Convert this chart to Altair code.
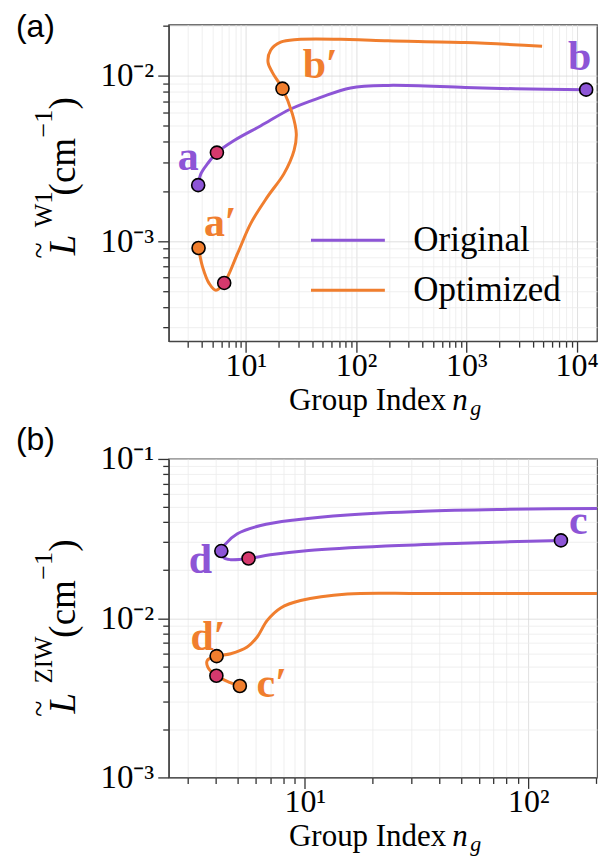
import altair as alt
import pandas as pd

PURPLE = "#8d55d6"
ORANGE = "#f07e2e"
PINK = "#d5396d"
SERIF = "Liberation Serif"
SANS = "Liberation Sans"

# ---------------- panel (a) data ----------------
a_orig_x = [3.70, 3.92, 4.50, 5.47, 7.83, 13.7, 25.5, 47.7, 89, 195, 980, 2800, 12200]
a_orig_y = [2.18e-3, 2.56e-3, 2.94e-3, 3.43e-3, 4.06e-3, 4.99e-3, 6.30e-3, 7.40e-3,
            8.45e-3, 8.75e-3, 8.50e-3, 8.35e-3, 8.25e-3]
a_opt_x = [3.73, 4.06, 4.66, 5.36, 6.37, 8.41, 11.1, 15.7, 22.2, 27.4, 28.7, 26.4, 21.5,
           17.4, 15.9, 16.8, 20.7, 29.4, 87, 195, 977, 4860]
a_opt_y = [9.08e-4, 6.96e-4, 5.53e-4, 5.04e-4, 5.58e-4, 8.40e-4, 1.28e-3, 1.85e-3, 2.56e-3,
           3.54e-3, 4.46e-3, 5.90e-3, 8.37e-3, 1.05e-2, 1.21e-2, 1.43e-2, 1.60e-2, 1.66e-2,
           1.66e-2, 1.63e-2, 1.59e-2, 1.51e-2]
a_pts_x = [3.70, 5.47, 12200, 3.73, 6.37, 21.5]
a_pts_y = [2.18e-3, 3.43e-3, 8.25e-3, 9.08e-4, 5.58e-4, 8.37e-3]
a_pts_kind = ["orig", "mid", "orig", "opt", "mid", "opt"]
a_lab_text = ["a", "b", "a′", "b′"]
a_lab_x = [2.41, 8370, 4.17, 32.8]
a_lab_y = [2.68e-3, 1.08e-2, 1.08e-3, 9.66e-3]
a_lab_kind = ["orig", "orig", "opt", "opt"]
a_xticks = [3, 4, 5, 6, 7, 8, 9, 10, 20, 30, 40, 50, 60, 70, 80, 90, 100, 200, 300, 400, 500,
            600, 700, 800, 900, 1000, 2000, 3000, 4000, 5000, 6000, 7000, 8000, 9000, 10000]
a_yticks = [3e-4, 4e-4, 5e-4, 6e-4, 7e-4, 8e-4, 9e-4, 1e-3, 2e-3, 3e-3, 4e-3, 5e-3, 6e-3,
            7e-3, 8e-3, 9e-3, 1e-2, 2e-2]

# ---------------- panel (b) data ----------------
b_orig_x = [140, 50.9, 23.0, 10.4, 7.0, 5.6, 4.66, 4.35, 4.23, 4.42, 4.99, 6.34, 9.2, 15.5,
            34, 76, 250]
b_orig_y = [3.08e-2, 2.96e-2, 2.84e-2, 2.66e-2, 2.50e-2, 2.37e-2, 2.33e-2, 2.39e-2, 2.64e-2,
            2.93e-2, 3.39e-2, 3.82e-2, 4.15e-2, 4.45e-2, 4.70e-2, 4.82e-2, 4.90e-2]
b_opt_x = [5.12, 4.57, 4.02, 3.68, 3.66, 4.03, 4.66, 5.52, 6.12, 6.79, 7.80, 9.57, 15.5,
           34.2, 250]
b_opt_y = [3.75e-3, 3.97e-3, 4.35e-3, 4.93e-3, 5.43e-3, 5.78e-3, 5.98e-3, 6.59e-3, 7.62e-3,
           9.69e-3, 1.16e-2, 1.29e-2, 1.42e-2, 1.43e-2, 1.43e-2]
b_pts_x = [4.23, 5.6, 140, 4.03, 4.02, 5.12]
b_pts_y = [2.64e-2, 2.37e-2, 3.08e-2, 5.78e-3, 4.35e-3, 3.75e-3]
b_pts_kind = ["orig", "mid", "orig", "opt", "mid", "opt"]
b_lab_text = ["d", "c", "d′", "c′"]
b_lab_x = [3.02, 152, 3.08, 6.08]
b_lab_y = [1.91e-2, 3.39e-2, 6.28e-3, 3.20e-3]
b_lab_kind = ["orig", "orig", "opt", "opt"]
b_xticks = [3, 4, 5, 6, 7, 8, 9, 10, 20, 30, 40, 50, 60, 70, 80, 90, 100, 200]
b_yticks = [1e-3, 2e-3, 3e-3, 4e-3, 5e-3, 6e-3, 7e-3, 8e-3, 9e-3, 1e-2, 2e-2, 3e-2, 4e-2,
            5e-2, 6e-2, 7e-2, 8e-2, 9e-2, 1e-1]

SERIES = ["Original", "Optimized"]

# ---------------- helpers ----------------
LOG = "log(datum.value)/LN10"
MAJOR = f"abs({LOG} - round({LOG})) < 0.001"
SUP = {-4: "⁻⁴", -3: "⁻³", -2: "⁻²", -1: "⁻¹", 0: "⁰", 1: "¹", 2: "²", 3: "³", 4: "⁴"}
inner = "''"
for e, s in SUP.items():
    inner = f"(round({LOG}) == {e} ? '10{s}' : {inner})"
LABEL_EXPR = f"({MAJOR}) ? {inner} : ''"


def axis(values, orient, pad, size):
    return alt.Axis(
        values=values, title=None, labelExpr=LABEL_EXPR, labelOverlap=False,
        labelFlush=False, labelBound=False, labelPadding=pad,
        labelFont=SERIF, labelFontSize=size, labelColor="black",
        tickSize={"condition": {"test": MAJOR, "value": 11}, "value": 6},
        gridColor={"condition": {"test": MAJOR, "value": "#d8d8d8"}, "value": "#ebebeb"},
        grid=True, orient=orient,
    )


def line_df(xo, yo, xp, yp):
    return pd.DataFrame({
        "x": xo + xp, "y": yo + yp,
        "series": [SERIES[0]] * len(xo) + [SERIES[1]] * len(xp),
        "i": list(range(len(xo))) + list(range(len(xp))),
    })


def txt(s, x, y, size, font=SERIF, align="left", baseline="alphabetic", **kw):
    return alt.Chart(pd.DataFrame({"t": [s]})).mark_text(
        font=font, fontSize=size, align=align, baseline=baseline, color="black", **kw
    ).encode(text="t:N", x=alt.value(x), y=alt.value(y))


def panel(lines, pts, labs, xdom, ydom, xt, yt, legend, h, letter, letter_y, sup, ytl):
    X = alt.X("x:Q", scale=alt.Scale(type="log", domain=xdom, nice=False),
              axis=axis(xt, "bottom", -2, 32))
    Y = alt.Y("y:Q", scale=alt.Scale(type="log", domain=ydom, nice=False),
              axis=axis(yt, "left", 4, 33))
    kinds = alt.Scale(domain=["orig", "mid", "opt"], range=[PURPLE, PINK, ORANGE])
    ln = alt.Chart(lines).mark_line(strokeWidth=3, clip=True, interpolate="catmull-rom").encode(
        x=X, y=Y,
        color=alt.Color("series:N", scale=alt.Scale(domain=SERIES, range=[PURPLE, ORANGE]),
                        legend=legend),
        order="i:Q",
    )
    pt = alt.Chart(pts).mark_circle(size=170, stroke="black", strokeWidth=1.6, opacity=1).encode(
        x=X, y=Y, fill=alt.Fill("kind:N", scale=kinds, legend=None),
    )
    lb = alt.Chart(labs).mark_text(font=SERIF, fontSize=42, fontWeight="bold", align="left",
                                   baseline="alphabetic").encode(
        x=X, y=Y, text="t:N", fill=alt.Fill("kind:N", scale=kinds, legend=None),
    )
    L0, TIL, SUPY, CM = ytl
    layers = [
        ln, pt, lb,
        txt(letter, -153, letter_y, 32, font=SANS),
        txt("L", -94, L0, 37, angle=270, fontStyle="italic"),
        txt("~", -129, TIL, 30, align="center", baseline="middle", angle=270),
        txt(sup, -117, SUPY, 25, angle=270),
        txt("(cm", -94, CM, 37, angle=270),
        txt("−1", -117, CM - 58, 26, angle=270),
        txt(")", -94, CM - 86, 37, angle=270),
        txt("Group Index", 278, h + 69, 31, align="right"),
        txt("n", 284, h + 69, 31, fontStyle="italic"),
        txt("g", 302, h + 74, 22, fontStyle="italic"),
    ]
    return alt.layer(*layers).properties(width=429, height=h)


legend_a = alt.Legend(
    title=None, orient="none", legendX=141, legendY=196, symbolType="stroke",
    symbolSize=5476, symbolStrokeWidth=3, labelFont=SERIF, labelFontSize=35,
    labelColor="black", labelOffset=27, rowPadding=10, clipHeight=40, padding=0,
)

pa = panel(
    line_df(a_orig_x, a_orig_y, a_opt_x, a_opt_y),
    pd.DataFrame({"x": a_pts_x, "y": a_pts_y, "kind": a_pts_kind}),
    pd.DataFrame({"x": a_lab_x, "y": a_lab_y, "t": a_lab_text, "kind": a_lab_kind}),
    [2.0, 1.53e4], [2.48e-4, 2.04e-2], a_xticks, a_yticks, legend_a, 317,
    "(a)", 12, "W1", (231, 226, 203, 171),
)
pb = panel(
    line_df(b_orig_x, b_orig_y, b_opt_x, b_opt_y),
    pd.DataFrame({"x": b_pts_x, "y": b_pts_y, "kind": b_pts_kind}),
    pd.DataFrame({"x": b_lab_x, "y": b_lab_y, "t": b_lab_text, "kind": b_lab_kind}),
    [2.46, 203], [1e-3, 1e-1], b_xticks, b_yticks, None, 319,
    "(b)", -9, "ZIW", (255, 250, 225, 179),
)

chart = alt.vconcat(pa, pb, spacing=118, bounds="flush").resolve_scale(
    color="independent", fill="independent", x="independent", y="independent"
).properties(
    padding={"left": 15, "top": 8, "right": 5, "bottom": 0}, background="white"
).configure_view(
    stroke="#444", strokeWidth=1.3
).configure_axis(
    domainColor="#444", domainWidth=1.3, tickColor="#333", tickWidth=1.3,
    labelFont=SERIF, labelColor="black", gridWidth=0.8,
)

chart.save("out.html", embed_options={"renderer": "svg", "actions": False})
